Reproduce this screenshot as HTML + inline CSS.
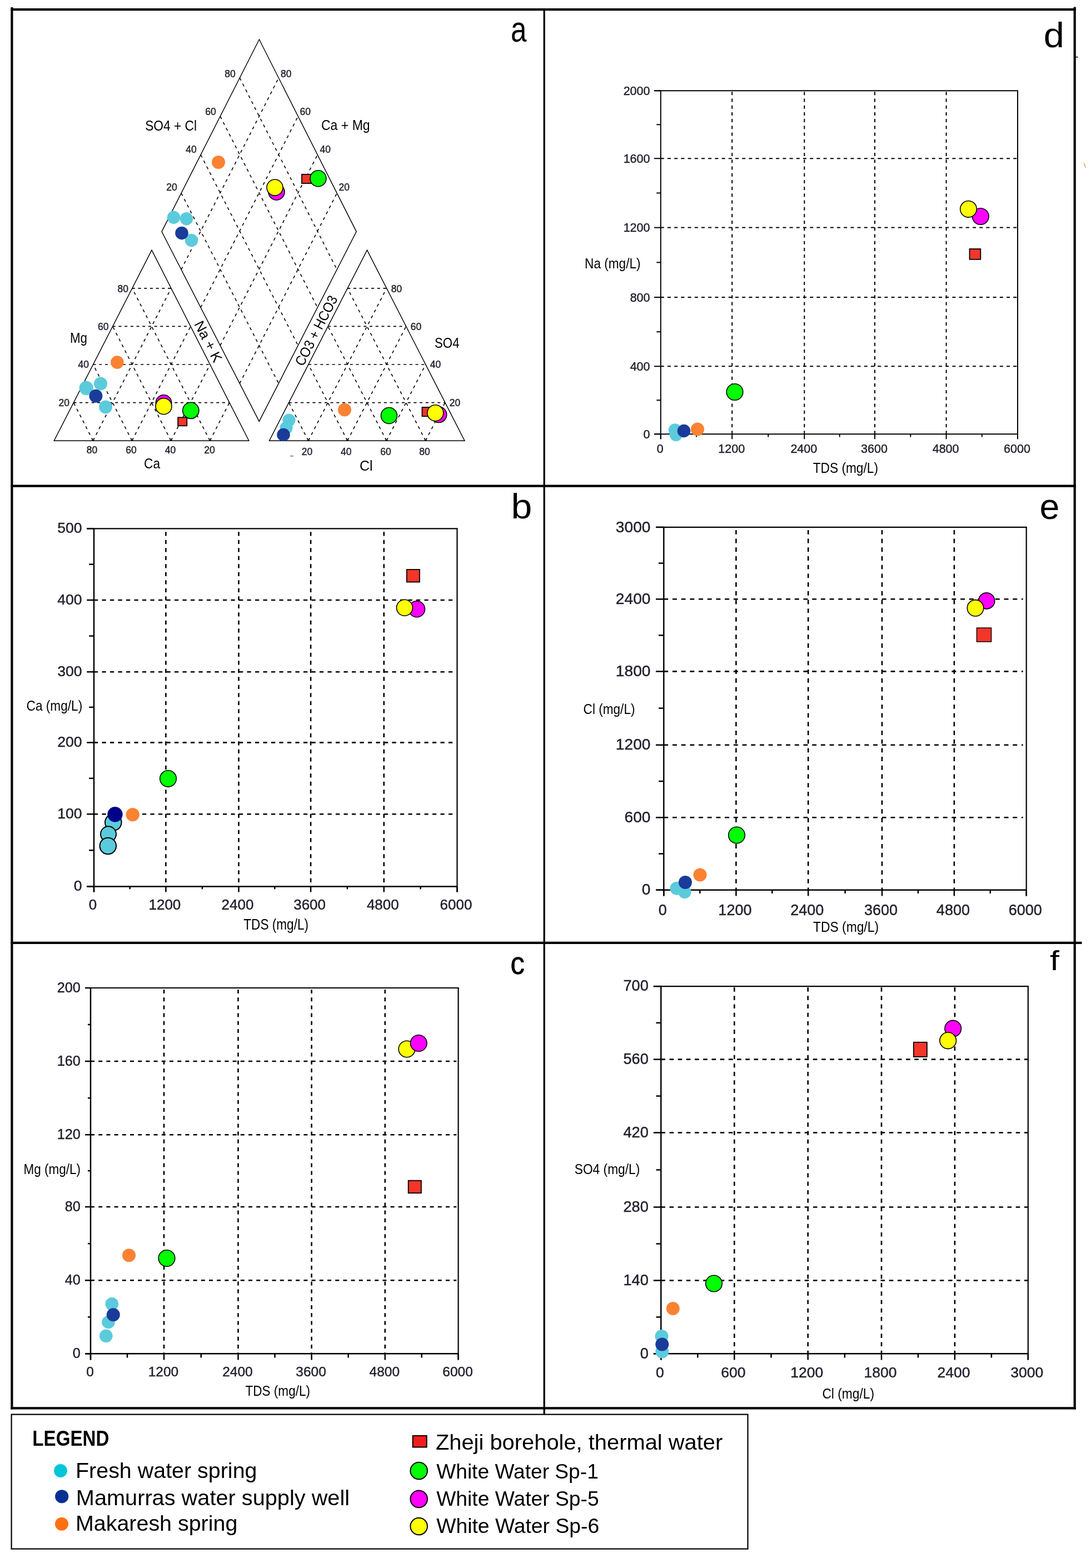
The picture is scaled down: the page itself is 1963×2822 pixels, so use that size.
<!DOCTYPE html><html><head><meta charset="utf-8"><title>Figure</title><style>html,body{margin:0;padding:0;background:#fff;}svg{display:block;}text{font-family:'Liberation Sans', Arial, sans-serif;}</style></head><body>
<svg width="1963" height="2822" viewBox="0 0 1963 2822">
<rect x="0" y="0" width="1963" height="2822" fill="#fff"/>
<line x1="19.4" y1="17.2" x2="1935.8" y2="17.2" stroke="#000" stroke-width="4.2" stroke-linecap="butt"/>
<line x1="21.4" y1="13" x2="21.4" y2="2536.5" stroke="#000" stroke-width="4.2" stroke-linecap="butt"/>
<line x1="1933.7" y1="12.5" x2="1933.7" y2="2536.5" stroke="#000" stroke-width="4.2" stroke-linecap="butt"/>
<line x1="19.4" y1="2534.4" x2="1935.8" y2="2534.4" stroke="#000" stroke-width="4.2" stroke-linecap="butt"/>
<line x1="979.2" y1="17" x2="979.2" y2="2546" stroke="#000" stroke-width="3.2" stroke-linecap="butt"/>
<line x1="19.4" y1="874.7" x2="1935.8" y2="874.7" stroke="#000" stroke-width="4.2" stroke-linecap="butt"/>
<line x1="19.4" y1="1696.8" x2="1946.5" y2="1696.8" stroke="#000" stroke-width="4.2" stroke-linecap="butt"/>
<rect x="20.6" y="2545.6" width="1324.9" height="242" fill="none" stroke="#000" stroke-width="2.2"/>
<line x1="132.44" y1="724.6" x2="412.84" y2="724.6" stroke="#000" stroke-width="1.7" stroke-dasharray="5 5.7" stroke-linecap="butt"/>
<line x1="167.4" y1="793.2" x2="132.44" y2="724.6" stroke="#000" stroke-width="1.6" stroke-dasharray="5.4 6.4" stroke-linecap="butt"/>
<line x1="377.7" y1="793.2" x2="412.84" y2="724.6" stroke="#000" stroke-width="1.6" stroke-dasharray="5.4 6.4" stroke-linecap="butt"/>
<line x1="167.58" y1="656" x2="377.88" y2="656" stroke="#000" stroke-width="1.7" stroke-dasharray="5 5.7" stroke-linecap="butt"/>
<line x1="237.5" y1="793.2" x2="167.58" y2="656" stroke="#000" stroke-width="1.6" stroke-dasharray="5.4 6.4" stroke-linecap="butt"/>
<line x1="307.6" y1="793.2" x2="377.88" y2="656" stroke="#000" stroke-width="1.6" stroke-dasharray="5.4 6.4" stroke-linecap="butt"/>
<line x1="202.72" y1="587.4" x2="342.92" y2="587.4" stroke="#000" stroke-width="1.7" stroke-dasharray="5 5.7" stroke-linecap="butt"/>
<line x1="307.6" y1="793.2" x2="202.72" y2="587.4" stroke="#000" stroke-width="1.6" stroke-dasharray="5.4 6.4" stroke-linecap="butt"/>
<line x1="237.5" y1="793.2" x2="342.92" y2="587.4" stroke="#000" stroke-width="1.6" stroke-dasharray="5.4 6.4" stroke-linecap="butt"/>
<line x1="237.86" y1="518.8" x2="307.96" y2="518.8" stroke="#000" stroke-width="1.7" stroke-dasharray="5 5.7" stroke-linecap="butt"/>
<line x1="377.7" y1="793.2" x2="237.86" y2="518.8" stroke="#000" stroke-width="1.6" stroke-dasharray="5.4 6.4" stroke-linecap="butt"/>
<line x1="167.4" y1="793.2" x2="307.96" y2="518.8" stroke="#000" stroke-width="1.6" stroke-dasharray="5.4 6.4" stroke-linecap="butt"/>
<polygon points="97.3,793.2 447.8,793.2 273,450.2" fill="none" stroke="#000" stroke-width="1.45" stroke-linejoin="miter"/>
<line x1="166.2" y1="789.2" x2="166.2" y2="793.2" stroke="#000" stroke-width="1.1" stroke-linecap="butt"/>
<line x1="168.6" y1="789.2" x2="168.6" y2="793.2" stroke="#000" stroke-width="1.1" stroke-linecap="butt"/>
<line x1="236.3" y1="789.2" x2="236.3" y2="793.2" stroke="#000" stroke-width="1.1" stroke-linecap="butt"/>
<line x1="238.7" y1="789.2" x2="238.7" y2="793.2" stroke="#000" stroke-width="1.1" stroke-linecap="butt"/>
<line x1="306.4" y1="789.2" x2="306.4" y2="793.2" stroke="#000" stroke-width="1.1" stroke-linecap="butt"/>
<line x1="308.8" y1="789.2" x2="308.8" y2="793.2" stroke="#000" stroke-width="1.1" stroke-linecap="butt"/>
<line x1="376.5" y1="789.2" x2="376.5" y2="793.2" stroke="#000" stroke-width="1.1" stroke-linecap="butt"/>
<line x1="378.9" y1="789.2" x2="378.9" y2="793.2" stroke="#000" stroke-width="1.1" stroke-linecap="butt"/>
<line x1="519.7" y1="724.6" x2="800.9" y2="724.6" stroke="#000" stroke-width="1.7" stroke-dasharray="5 5.7" stroke-linecap="butt"/>
<line x1="554.8" y1="793.2" x2="519.7" y2="724.6" stroke="#000" stroke-width="1.6" stroke-dasharray="5.4 6.4" stroke-linecap="butt"/>
<line x1="765.7" y1="793.2" x2="800.9" y2="724.6" stroke="#000" stroke-width="1.6" stroke-dasharray="5.4 6.4" stroke-linecap="butt"/>
<line x1="554.9" y1="656" x2="765.8" y2="656" stroke="#000" stroke-width="1.7" stroke-dasharray="5 5.7" stroke-linecap="butt"/>
<line x1="625.1" y1="793.2" x2="554.9" y2="656" stroke="#000" stroke-width="1.6" stroke-dasharray="5.4 6.4" stroke-linecap="butt"/>
<line x1="695.4" y1="793.2" x2="765.8" y2="656" stroke="#000" stroke-width="1.6" stroke-dasharray="5.4 6.4" stroke-linecap="butt"/>
<line x1="590.1" y1="587.4" x2="730.7" y2="587.4" stroke="#000" stroke-width="1.7" stroke-dasharray="5 5.7" stroke-linecap="butt"/>
<line x1="695.4" y1="793.2" x2="590.1" y2="587.4" stroke="#000" stroke-width="1.6" stroke-dasharray="5.4 6.4" stroke-linecap="butt"/>
<line x1="625.1" y1="793.2" x2="730.7" y2="587.4" stroke="#000" stroke-width="1.6" stroke-dasharray="5.4 6.4" stroke-linecap="butt"/>
<line x1="625.3" y1="518.8" x2="695.6" y2="518.8" stroke="#000" stroke-width="1.7" stroke-dasharray="5 5.7" stroke-linecap="butt"/>
<line x1="765.7" y1="793.2" x2="625.3" y2="518.8" stroke="#000" stroke-width="1.6" stroke-dasharray="5.4 6.4" stroke-linecap="butt"/>
<line x1="554.8" y1="793.2" x2="695.6" y2="518.8" stroke="#000" stroke-width="1.6" stroke-dasharray="5.4 6.4" stroke-linecap="butt"/>
<polygon points="484.5,793.2 836,793.2 660.5,450.2" fill="none" stroke="#000" stroke-width="1.45" stroke-linejoin="miter"/>
<line x1="553.6" y1="789.2" x2="553.6" y2="793.2" stroke="#000" stroke-width="1.1" stroke-linecap="butt"/>
<line x1="556" y1="789.2" x2="556" y2="793.2" stroke="#000" stroke-width="1.1" stroke-linecap="butt"/>
<line x1="623.9" y1="789.2" x2="623.9" y2="793.2" stroke="#000" stroke-width="1.1" stroke-linecap="butt"/>
<line x1="626.3" y1="789.2" x2="626.3" y2="793.2" stroke="#000" stroke-width="1.1" stroke-linecap="butt"/>
<line x1="694.2" y1="789.2" x2="694.2" y2="793.2" stroke="#000" stroke-width="1.1" stroke-linecap="butt"/>
<line x1="696.6" y1="789.2" x2="696.6" y2="793.2" stroke="#000" stroke-width="1.1" stroke-linecap="butt"/>
<line x1="764.5" y1="789.2" x2="764.5" y2="793.2" stroke="#000" stroke-width="1.1" stroke-linecap="butt"/>
<line x1="766.9" y1="789.2" x2="766.9" y2="793.2" stroke="#000" stroke-width="1.1" stroke-linecap="butt"/>
<line x1="326.08" y1="347.64" x2="501.28" y2="690.08" stroke="#000" stroke-width="1.6" stroke-dasharray="5.4 6.4" stroke-linecap="butt"/>
<line x1="326.06" y1="485.12" x2="501.36" y2="140.16" stroke="#000" stroke-width="1.6" stroke-dasharray="5.4 6.4" stroke-linecap="butt"/>
<line x1="361.16" y1="278.48" x2="536.26" y2="621.76" stroke="#000" stroke-width="1.6" stroke-dasharray="5.4 6.4" stroke-linecap="butt"/>
<line x1="361.12" y1="553.44" x2="536.32" y2="209.32" stroke="#000" stroke-width="1.6" stroke-dasharray="5.4 6.4" stroke-linecap="butt"/>
<line x1="396.24" y1="209.32" x2="571.24" y2="553.44" stroke="#000" stroke-width="1.6" stroke-dasharray="5.4 6.4" stroke-linecap="butt"/>
<line x1="396.18" y1="621.76" x2="571.28" y2="278.48" stroke="#000" stroke-width="1.6" stroke-dasharray="5.4 6.4" stroke-linecap="butt"/>
<line x1="431.32" y1="140.16" x2="606.22" y2="485.12" stroke="#000" stroke-width="1.6" stroke-dasharray="5.4 6.4" stroke-linecap="butt"/>
<line x1="431.24" y1="690.08" x2="606.24" y2="347.64" stroke="#000" stroke-width="1.6" stroke-dasharray="5.4 6.4" stroke-linecap="butt"/>
<polygon points="291,416.8 466.4,71 641.2,416.8 466.3,758.4" fill="none" stroke="#000" stroke-width="1.45"/>
<text x="231" y="525.6" font-size="17.5" fill="#22222e" stroke="#22222e" stroke-width="0.45" text-anchor="end">80</text>
<text x="195.5" y="593.8" font-size="17.5" fill="#22222e" stroke="#22222e" stroke-width="0.45" text-anchor="end">60</text>
<text x="160" y="662.1" font-size="17.5" fill="#22222e" stroke="#22222e" stroke-width="0.45" text-anchor="end">40</text>
<text x="125" y="730.5" font-size="17.5" fill="#22222e" stroke="#22222e" stroke-width="0.45" text-anchor="end">20</text>
<text x="703.8" y="525.6" font-size="17.5" fill="#22222e" stroke="#22222e" stroke-width="0.45">80</text>
<text x="738.8" y="593.8" font-size="17.5" fill="#22222e" stroke="#22222e" stroke-width="0.45">60</text>
<text x="773.8" y="662.1" font-size="17.5" fill="#22222e" stroke="#22222e" stroke-width="0.45">40</text>
<text x="808.8" y="730.5" font-size="17.5" fill="#22222e" stroke="#22222e" stroke-width="0.45">20</text>
<text x="165.5" y="816.3" font-size="17.5" fill="#22222e" stroke="#22222e" stroke-width="0.45" text-anchor="middle">80</text>
<text x="236" y="816.3" font-size="17.5" fill="#22222e" stroke="#22222e" stroke-width="0.45" text-anchor="middle">60</text>
<text x="306.5" y="816.3" font-size="17.5" fill="#22222e" stroke="#22222e" stroke-width="0.45" text-anchor="middle">40</text>
<text x="377" y="816.3" font-size="17.5" fill="#22222e" stroke="#22222e" stroke-width="0.45" text-anchor="middle">20</text>
<text x="552.5" y="819.3" font-size="17.5" fill="#22222e" stroke="#22222e" stroke-width="0.45" text-anchor="middle">20</text>
<text x="622.8" y="819.3" font-size="17.5" fill="#22222e" stroke="#22222e" stroke-width="0.45" text-anchor="middle">40</text>
<text x="694" y="819.3" font-size="17.5" fill="#22222e" stroke="#22222e" stroke-width="0.45" text-anchor="middle">60</text>
<text x="764" y="819.3" font-size="17.5" fill="#22222e" stroke="#22222e" stroke-width="0.45" text-anchor="middle">80</text>
<text x="423.8" y="138.6" font-size="17.5" fill="#22222e" stroke="#22222e" stroke-width="0.45" text-anchor="end">80</text>
<text x="388.8" y="206.5" font-size="17.5" fill="#22222e" stroke="#22222e" stroke-width="0.45" text-anchor="end">60</text>
<text x="353.8" y="274.6" font-size="17.5" fill="#22222e" stroke="#22222e" stroke-width="0.45" text-anchor="end">40</text>
<text x="318.8" y="342.6" font-size="17.5" fill="#22222e" stroke="#22222e" stroke-width="0.45" text-anchor="end">20</text>
<text x="505" y="138.6" font-size="17.5" fill="#22222e" stroke="#22222e" stroke-width="0.45">80</text>
<text x="539.5" y="206.5" font-size="17.5" fill="#22222e" stroke="#22222e" stroke-width="0.45">60</text>
<text x="575.5" y="274.6" font-size="17.5" fill="#22222e" stroke="#22222e" stroke-width="0.45">40</text>
<text x="609.5" y="342.6" font-size="17.5" fill="#22222e" stroke="#22222e" stroke-width="0.45">20</text>
<line x1="522" y1="820.8" x2="528" y2="820.8" stroke="#555" stroke-width="1.2" stroke-linecap="butt"/>
<text x="261.2" y="234.5" font-size="25.5" fill="#000" textLength="92.9" lengthAdjust="spacingAndGlyphs">SO4 + Cl</text>
<text x="578" y="233.8" font-size="25.5" fill="#000" textLength="87.6" lengthAdjust="spacingAndGlyphs">Ca + Mg</text>
<text x="126" y="616.8" font-size="25.5" fill="#000" textLength="31" lengthAdjust="spacingAndGlyphs">Mg</text>
<text x="782" y="626.3" font-size="25.5" fill="#000" textLength="44.5" lengthAdjust="spacingAndGlyphs">SO4</text>
<text x="259" y="842.8" font-size="25.5" fill="#000" textLength="29" lengthAdjust="spacingAndGlyphs">Ca</text>
<text x="647" y="847.3" font-size="25.5" fill="#000" textLength="23.6" lengthAdjust="spacingAndGlyphs">Cl</text>
<g transform="translate(375,614.4) rotate(62.93)"><text x="0" y="9" font-size="25.5" text-anchor="middle" textLength="80" lengthAdjust="spacingAndGlyphs">Na + K</text></g>
<g transform="translate(568.8,595) rotate(-62.93)"><text x="0" y="9" font-size="25.5" text-anchor="middle" textLength="138" lengthAdjust="spacingAndGlyphs">CO3 + HCO3</text></g>
<circle cx="210.9" cy="652.1" r="11.8" fill="#fb8232"/>
<circle cx="155.2" cy="698.5" r="12.7" fill="#5bcbdc"/>
<circle cx="181" cy="690.5" r="12" fill="#5bcbdc"/>
<circle cx="172.4" cy="712.8" r="12" fill="#1a3b99"/>
<circle cx="190" cy="732.5" r="12" fill="#5bcbdc"/>
<circle cx="294.5" cy="725" r="14.2" fill="#ff00ff" stroke="#000" stroke-width="1.6"/>
<circle cx="294.5" cy="731.3" r="14.5" fill="#ffff00" stroke="#000" stroke-width="1.6"/>
<circle cx="343.3" cy="738.8" r="14.6" fill="#00ff00" stroke="#000" stroke-width="1.6"/>
<rect x="320.2" y="751.3" width="16.1" height="15" fill="#f4352a" stroke="#000" stroke-width="1.8"/>
<circle cx="393" cy="292" r="12" fill="#fb8232"/>
<circle cx="497.5" cy="345.5" r="14.5" fill="#ff00ff" stroke="#000" stroke-width="1.6"/>
<circle cx="494.5" cy="337.5" r="14.5" fill="#ffff00" stroke="#000" stroke-width="1.6"/>
<rect x="543" y="313.8" width="17" height="16.2" fill="#f4352a" stroke="#000" stroke-width="1.8"/>
<circle cx="572.5" cy="321.3" r="14.5" fill="#00ff00" stroke="#000" stroke-width="1.6"/>
<circle cx="312.5" cy="391.3" r="11.7" fill="#5bcbdc"/>
<circle cx="335.5" cy="393.8" r="11.7" fill="#5bcbdc"/>
<circle cx="344.5" cy="432.5" r="11.7" fill="#5bcbdc"/>
<circle cx="327" cy="419.5" r="11.8" fill="#1a3b99"/>
<circle cx="520" cy="756.3" r="11.6" fill="#5bcbdc"/>
<circle cx="515" cy="770" r="11.6" fill="#5bcbdc"/>
<circle cx="510" cy="782.5" r="11.8" fill="#1a3b99"/>
<circle cx="620" cy="737.5" r="12" fill="#fb8232"/>
<circle cx="700" cy="748" r="14.5" fill="#00ff00" stroke="#000" stroke-width="1.6"/>
<rect x="759.5" y="733" width="16.5" height="16.3" fill="#f4352a" stroke="#000" stroke-width="1.8"/>
<circle cx="789.5" cy="746.3" r="14.2" fill="#ff00ff" stroke="#000" stroke-width="1.6"/>
<circle cx="783.3" cy="743.3" r="14.5" fill="#ffff00" stroke="#000" stroke-width="1.6"/>
<text x="917.5" y="75.5" font-size="64" fill="#000" transform="matrix(0.8 0 0 1 184.9 0)">a</text>
<line x1="169" y1="1465.2" x2="818.8" y2="1465.2" stroke="#000" stroke-width="2.6" stroke-dasharray="7.2 7.3" stroke-linecap="butt"/>
<line x1="298.4" y1="957.3" x2="298.4" y2="1595.4" stroke="#000" stroke-width="2.6" stroke-dasharray="7.2 7.3" stroke-linecap="butt"/>
<line x1="169" y1="1336.4" x2="818.8" y2="1336.4" stroke="#000" stroke-width="2.6" stroke-dasharray="7.2 7.3" stroke-linecap="butt"/>
<line x1="429.5" y1="957.3" x2="429.5" y2="1595.4" stroke="#000" stroke-width="2.6" stroke-dasharray="7.2 7.3" stroke-linecap="butt"/>
<line x1="169" y1="1209.2" x2="818.8" y2="1209.2" stroke="#000" stroke-width="2.6" stroke-dasharray="7.2 7.3" stroke-linecap="butt"/>
<line x1="559.1" y1="957.3" x2="559.1" y2="1595.4" stroke="#000" stroke-width="2.6" stroke-dasharray="7.2 7.3" stroke-linecap="butt"/>
<line x1="169" y1="1080" x2="818.8" y2="1080" stroke="#000" stroke-width="2.6" stroke-dasharray="7.2 7.3" stroke-linecap="butt"/>
<line x1="690.8" y1="957.3" x2="690.8" y2="1595.4" stroke="#000" stroke-width="2.6" stroke-dasharray="7.2 7.3" stroke-linecap="butt"/>
<line x1="156.2" y1="951.3" x2="823.6" y2="951.3" stroke="#000" stroke-width="2.2" stroke-linecap="butt"/>
<line x1="822.5" y1="951.3" x2="822.5" y2="1605.5" stroke="#000" stroke-width="2.2" stroke-linecap="butt"/>
<line x1="169" y1="951.05" x2="169" y2="1605.5" stroke="#000" stroke-width="2.5" stroke-linecap="butt"/>
<line x1="156.2" y1="1595.4" x2="822.5" y2="1595.4" stroke="#000" stroke-width="2.5" stroke-linecap="butt"/>
<line x1="156.2" y1="1595.4" x2="169" y2="1595.4" stroke="#000" stroke-width="2.5" stroke-linecap="butt"/>
<line x1="169" y1="1595.4" x2="169" y2="1605.5" stroke="#000" stroke-width="2.5" stroke-linecap="butt"/>
<line x1="156.2" y1="1465.2" x2="169" y2="1465.2" stroke="#000" stroke-width="2.5" stroke-linecap="butt"/>
<line x1="298.4" y1="1595.4" x2="298.4" y2="1605.5" stroke="#000" stroke-width="2.5" stroke-linecap="butt"/>
<line x1="156.2" y1="1336.4" x2="169" y2="1336.4" stroke="#000" stroke-width="2.5" stroke-linecap="butt"/>
<line x1="429.5" y1="1595.4" x2="429.5" y2="1605.5" stroke="#000" stroke-width="2.5" stroke-linecap="butt"/>
<line x1="156.2" y1="1209.2" x2="169" y2="1209.2" stroke="#000" stroke-width="2.5" stroke-linecap="butt"/>
<line x1="559.1" y1="1595.4" x2="559.1" y2="1605.5" stroke="#000" stroke-width="2.5" stroke-linecap="butt"/>
<line x1="156.2" y1="1080" x2="169" y2="1080" stroke="#000" stroke-width="2.5" stroke-linecap="butt"/>
<line x1="690.8" y1="1595.4" x2="690.8" y2="1605.5" stroke="#000" stroke-width="2.5" stroke-linecap="butt"/>
<line x1="156.2" y1="951.3" x2="169" y2="951.3" stroke="#000" stroke-width="2.5" stroke-linecap="butt"/>
<line x1="822.5" y1="1595.4" x2="822.5" y2="1605.5" stroke="#000" stroke-width="2.5" stroke-linecap="butt"/>
<line x1="160.2" y1="1530.3" x2="169" y2="1530.3" stroke="#000" stroke-width="2.5" stroke-linecap="butt"/>
<line x1="233.7" y1="1595.4" x2="233.7" y2="1600.3" stroke="#000" stroke-width="2.5" stroke-linecap="butt"/>
<line x1="160.2" y1="1400.8" x2="169" y2="1400.8" stroke="#000" stroke-width="2.5" stroke-linecap="butt"/>
<line x1="363.95" y1="1595.4" x2="363.95" y2="1600.3" stroke="#000" stroke-width="2.5" stroke-linecap="butt"/>
<line x1="160.2" y1="1272.8" x2="169" y2="1272.8" stroke="#000" stroke-width="2.5" stroke-linecap="butt"/>
<line x1="494.3" y1="1595.4" x2="494.3" y2="1600.3" stroke="#000" stroke-width="2.5" stroke-linecap="butt"/>
<line x1="160.2" y1="1144.6" x2="169" y2="1144.6" stroke="#000" stroke-width="2.5" stroke-linecap="butt"/>
<line x1="624.95" y1="1595.4" x2="624.95" y2="1600.3" stroke="#000" stroke-width="2.5" stroke-linecap="butt"/>
<line x1="160.2" y1="1015.65" x2="169" y2="1015.65" stroke="#000" stroke-width="2.5" stroke-linecap="butt"/>
<line x1="756.65" y1="1595.4" x2="756.65" y2="1600.3" stroke="#000" stroke-width="2.5" stroke-linecap="butt"/>
<text x="147.5" y="1603.42" font-size="26.6" fill="#22222e" stroke="#22222e" stroke-width="0.45" text-anchor="end">0</text>
<text x="147.5" y="1473.22" font-size="26.6" fill="#22222e" stroke="#22222e" stroke-width="0.45" text-anchor="end">100</text>
<text x="147.5" y="1344.42" font-size="26.6" fill="#22222e" stroke="#22222e" stroke-width="0.45" text-anchor="end">200</text>
<text x="147.5" y="1217.22" font-size="26.6" fill="#22222e" stroke="#22222e" stroke-width="0.45" text-anchor="end">300</text>
<text x="147.5" y="1088.02" font-size="26.6" fill="#22222e" stroke="#22222e" stroke-width="0.45" text-anchor="end">400</text>
<text x="147.5" y="959.32" font-size="26.6" fill="#22222e" stroke="#22222e" stroke-width="0.45" text-anchor="end">500</text>
<text x="167" y="1637.3" font-size="26" fill="#22222e" stroke="#22222e" stroke-width="0.45" text-anchor="middle">0</text>
<text x="296.4" y="1637.3" font-size="26" fill="#22222e" stroke="#22222e" stroke-width="0.45" text-anchor="middle">1200</text>
<text x="427.5" y="1637.3" font-size="26" fill="#22222e" stroke="#22222e" stroke-width="0.45" text-anchor="middle">2400</text>
<text x="557.1" y="1637.3" font-size="26" fill="#22222e" stroke="#22222e" stroke-width="0.45" text-anchor="middle">3600</text>
<text x="688.8" y="1637.3" font-size="26" fill="#22222e" stroke="#22222e" stroke-width="0.45" text-anchor="middle">4800</text>
<text x="820.5" y="1637.3" font-size="26" fill="#22222e" stroke="#22222e" stroke-width="0.45" text-anchor="middle">6000</text>
<text x="47.6" y="1278.8" font-size="26.5" fill="#000" textLength="100.6" lengthAdjust="spacingAndGlyphs">Ca (mg/L)</text>
<text x="438.3" y="1673.3" font-size="26.8" fill="#000" textLength="116.7" lengthAdjust="spacingAndGlyphs">TDS (mg/L)</text>
<line x1="163" y1="2304.3" x2="821.3" y2="2304.3" stroke="#000" stroke-width="2.6" stroke-dasharray="7 7.2" stroke-linecap="butt"/>
<line x1="295" y1="1781" x2="295" y2="2436.3" stroke="#000" stroke-width="2.6" stroke-dasharray="7 7.2" stroke-linecap="butt"/>
<line x1="163" y1="2172" x2="821.3" y2="2172" stroke="#000" stroke-width="2.6" stroke-dasharray="7 7.2" stroke-linecap="butt"/>
<line x1="428.5" y1="1781" x2="428.5" y2="2436.3" stroke="#000" stroke-width="2.6" stroke-dasharray="7 7.2" stroke-linecap="butt"/>
<line x1="163" y1="2042.2" x2="821.3" y2="2042.2" stroke="#000" stroke-width="2.6" stroke-dasharray="7 7.2" stroke-linecap="butt"/>
<line x1="560.6" y1="1781" x2="560.6" y2="2436.3" stroke="#000" stroke-width="2.6" stroke-dasharray="7 7.2" stroke-linecap="butt"/>
<line x1="163" y1="1910" x2="821.3" y2="1910" stroke="#000" stroke-width="2.6" stroke-dasharray="7 7.2" stroke-linecap="butt"/>
<line x1="692.8" y1="1781" x2="692.8" y2="2436.3" stroke="#000" stroke-width="2.6" stroke-dasharray="7 7.2" stroke-linecap="butt"/>
<line x1="153" y1="1778" x2="825.7" y2="1778" stroke="#000" stroke-width="2.2" stroke-linecap="butt"/>
<line x1="824.6" y1="1778" x2="824.6" y2="2447.5" stroke="#000" stroke-width="2.2" stroke-linecap="butt"/>
<line x1="163" y1="1777.75" x2="163" y2="2447.5" stroke="#000" stroke-width="2.5" stroke-linecap="butt"/>
<line x1="153" y1="2436.3" x2="824.6" y2="2436.3" stroke="#000" stroke-width="2.5" stroke-linecap="butt"/>
<line x1="153" y1="2436.3" x2="163" y2="2436.3" stroke="#000" stroke-width="2.5" stroke-linecap="butt"/>
<line x1="163" y1="2436.3" x2="163" y2="2447.5" stroke="#000" stroke-width="2.5" stroke-linecap="butt"/>
<line x1="153" y1="2304.3" x2="163" y2="2304.3" stroke="#000" stroke-width="2.5" stroke-linecap="butt"/>
<line x1="295" y1="2436.3" x2="295" y2="2447.5" stroke="#000" stroke-width="2.5" stroke-linecap="butt"/>
<line x1="153" y1="2172" x2="163" y2="2172" stroke="#000" stroke-width="2.5" stroke-linecap="butt"/>
<line x1="428.5" y1="2436.3" x2="428.5" y2="2447.5" stroke="#000" stroke-width="2.5" stroke-linecap="butt"/>
<line x1="153" y1="2042.2" x2="163" y2="2042.2" stroke="#000" stroke-width="2.5" stroke-linecap="butt"/>
<line x1="560.6" y1="2436.3" x2="560.6" y2="2447.5" stroke="#000" stroke-width="2.5" stroke-linecap="butt"/>
<line x1="153" y1="1910" x2="163" y2="1910" stroke="#000" stroke-width="2.5" stroke-linecap="butt"/>
<line x1="692.8" y1="2436.3" x2="692.8" y2="2447.5" stroke="#000" stroke-width="2.5" stroke-linecap="butt"/>
<line x1="153" y1="1778" x2="163" y2="1778" stroke="#000" stroke-width="2.5" stroke-linecap="butt"/>
<line x1="824.6" y1="2436.3" x2="824.6" y2="2447.5" stroke="#000" stroke-width="2.5" stroke-linecap="butt"/>
<line x1="158" y1="2370.3" x2="163" y2="2370.3" stroke="#000" stroke-width="2.5" stroke-linecap="butt"/>
<line x1="229" y1="2436.3" x2="229" y2="2443.5" stroke="#000" stroke-width="2.5" stroke-linecap="butt"/>
<line x1="158" y1="2238.15" x2="163" y2="2238.15" stroke="#000" stroke-width="2.5" stroke-linecap="butt"/>
<line x1="361.75" y1="2436.3" x2="361.75" y2="2443.5" stroke="#000" stroke-width="2.5" stroke-linecap="butt"/>
<line x1="158" y1="2107.1" x2="163" y2="2107.1" stroke="#000" stroke-width="2.5" stroke-linecap="butt"/>
<line x1="494.55" y1="2436.3" x2="494.55" y2="2443.5" stroke="#000" stroke-width="2.5" stroke-linecap="butt"/>
<line x1="158" y1="1976.1" x2="163" y2="1976.1" stroke="#000" stroke-width="2.5" stroke-linecap="butt"/>
<line x1="626.7" y1="2436.3" x2="626.7" y2="2443.5" stroke="#000" stroke-width="2.5" stroke-linecap="butt"/>
<line x1="158" y1="1844" x2="163" y2="1844" stroke="#000" stroke-width="2.5" stroke-linecap="butt"/>
<line x1="758.7" y1="2436.3" x2="758.7" y2="2443.5" stroke="#000" stroke-width="2.5" stroke-linecap="butt"/>
<text x="144.8" y="2443.82" font-size="25.2" fill="#22222e" stroke="#22222e" stroke-width="0.45" text-anchor="end">0</text>
<text x="144.8" y="2311.82" font-size="25.2" fill="#22222e" stroke="#22222e" stroke-width="0.45" text-anchor="end">40</text>
<text x="144.8" y="2179.52" font-size="25.2" fill="#22222e" stroke="#22222e" stroke-width="0.45" text-anchor="end">80</text>
<text x="144.8" y="2049.72" font-size="25.2" fill="#22222e" stroke="#22222e" stroke-width="0.45" text-anchor="end">120</text>
<text x="144.8" y="1917.52" font-size="25.2" fill="#22222e" stroke="#22222e" stroke-width="0.45" text-anchor="end">160</text>
<text x="144.8" y="1785.52" font-size="25.2" fill="#22222e" stroke="#22222e" stroke-width="0.45" text-anchor="end">200</text>
<text x="162" y="2476.5" font-size="24.5" fill="#22222e" stroke="#22222e" stroke-width="0.45" text-anchor="middle">0</text>
<text x="294" y="2476.5" font-size="24.5" fill="#22222e" stroke="#22222e" stroke-width="0.45" text-anchor="middle">1200</text>
<text x="427.5" y="2476.5" font-size="24.5" fill="#22222e" stroke="#22222e" stroke-width="0.45" text-anchor="middle">2400</text>
<text x="559.6" y="2476.5" font-size="24.5" fill="#22222e" stroke="#22222e" stroke-width="0.45" text-anchor="middle">3600</text>
<text x="691.8" y="2476.5" font-size="24.5" fill="#22222e" stroke="#22222e" stroke-width="0.45" text-anchor="middle">4800</text>
<text x="823.6" y="2476.5" font-size="24.5" fill="#22222e" stroke="#22222e" stroke-width="0.45" text-anchor="middle">6000</text>
<text x="42.6" y="2113.3" font-size="25.5" fill="#000" textLength="102.4" lengthAdjust="spacingAndGlyphs">Mg (mg/L)</text>
<text x="441.4" y="2512.3" font-size="26.3" fill="#000" textLength="116.7" lengthAdjust="spacingAndGlyphs">TDS (mg/L)</text>
<line x1="1188.8" y1="659.3" x2="1831" y2="659.3" stroke="#000" stroke-width="2" stroke-dasharray="6 6.2" stroke-linecap="butt"/>
<line x1="1317.2" y1="165.3" x2="1317.2" y2="781.2" stroke="#000" stroke-width="2" stroke-dasharray="6 6.2" stroke-linecap="butt"/>
<line x1="1188.8" y1="535" x2="1831" y2="535" stroke="#000" stroke-width="2" stroke-dasharray="6 6.2" stroke-linecap="butt"/>
<line x1="1447.3" y1="165.3" x2="1447.3" y2="781.2" stroke="#000" stroke-width="2" stroke-dasharray="6 6.2" stroke-linecap="butt"/>
<line x1="1188.8" y1="409.6" x2="1831" y2="409.6" stroke="#000" stroke-width="2" stroke-dasharray="6 6.2" stroke-linecap="butt"/>
<line x1="1574" y1="165.3" x2="1574" y2="781.2" stroke="#000" stroke-width="2" stroke-dasharray="6 6.2" stroke-linecap="butt"/>
<line x1="1188.8" y1="285.2" x2="1831" y2="285.2" stroke="#000" stroke-width="2" stroke-dasharray="6 6.2" stroke-linecap="butt"/>
<line x1="1702.6" y1="165.3" x2="1702.6" y2="781.2" stroke="#000" stroke-width="2" stroke-dasharray="6 6.2" stroke-linecap="butt"/>
<line x1="1177" y1="163.3" x2="1832" y2="163.3" stroke="#000" stroke-width="2" stroke-linecap="butt"/>
<line x1="1831" y1="163.3" x2="1831" y2="790.3" stroke="#000" stroke-width="2" stroke-linecap="butt"/>
<line x1="1188.8" y1="163.3" x2="1188.8" y2="790.3" stroke="#000" stroke-width="2" stroke-linecap="butt"/>
<line x1="1177" y1="781.2" x2="1831" y2="781.2" stroke="#000" stroke-width="2" stroke-linecap="butt"/>
<line x1="1177" y1="781.2" x2="1188.8" y2="781.2" stroke="#000" stroke-width="2" stroke-linecap="butt"/>
<line x1="1188.8" y1="781.2" x2="1188.8" y2="790.3" stroke="#000" stroke-width="2" stroke-linecap="butt"/>
<line x1="1177" y1="659.3" x2="1188.8" y2="659.3" stroke="#000" stroke-width="2" stroke-linecap="butt"/>
<line x1="1317.2" y1="781.2" x2="1317.2" y2="790.3" stroke="#000" stroke-width="2" stroke-linecap="butt"/>
<line x1="1177" y1="535" x2="1188.8" y2="535" stroke="#000" stroke-width="2" stroke-linecap="butt"/>
<line x1="1447.3" y1="781.2" x2="1447.3" y2="790.3" stroke="#000" stroke-width="2" stroke-linecap="butt"/>
<line x1="1177" y1="409.6" x2="1188.8" y2="409.6" stroke="#000" stroke-width="2" stroke-linecap="butt"/>
<line x1="1574" y1="781.2" x2="1574" y2="790.3" stroke="#000" stroke-width="2" stroke-linecap="butt"/>
<line x1="1177" y1="285.2" x2="1188.8" y2="285.2" stroke="#000" stroke-width="2" stroke-linecap="butt"/>
<line x1="1702.6" y1="781.2" x2="1702.6" y2="790.3" stroke="#000" stroke-width="2" stroke-linecap="butt"/>
<line x1="1177" y1="163.3" x2="1188.8" y2="163.3" stroke="#000" stroke-width="2" stroke-linecap="butt"/>
<line x1="1831" y1="781.2" x2="1831" y2="790.3" stroke="#000" stroke-width="2" stroke-linecap="butt"/>
<line x1="1181.3" y1="720.25" x2="1188.8" y2="720.25" stroke="#000" stroke-width="2" stroke-linecap="butt"/>
<line x1="1253" y1="781.2" x2="1253" y2="786.5" stroke="#000" stroke-width="2" stroke-linecap="butt"/>
<line x1="1181.3" y1="597.15" x2="1188.8" y2="597.15" stroke="#000" stroke-width="2" stroke-linecap="butt"/>
<line x1="1382.25" y1="781.2" x2="1382.25" y2="786.5" stroke="#000" stroke-width="2" stroke-linecap="butt"/>
<line x1="1181.3" y1="472.3" x2="1188.8" y2="472.3" stroke="#000" stroke-width="2" stroke-linecap="butt"/>
<line x1="1510.65" y1="781.2" x2="1510.65" y2="786.5" stroke="#000" stroke-width="2" stroke-linecap="butt"/>
<line x1="1181.3" y1="347.4" x2="1188.8" y2="347.4" stroke="#000" stroke-width="2" stroke-linecap="butt"/>
<line x1="1638.3" y1="781.2" x2="1638.3" y2="786.5" stroke="#000" stroke-width="2" stroke-linecap="butt"/>
<line x1="1181.3" y1="224.25" x2="1188.8" y2="224.25" stroke="#000" stroke-width="2" stroke-linecap="butt"/>
<line x1="1766.8" y1="781.2" x2="1766.8" y2="786.5" stroke="#000" stroke-width="2" stroke-linecap="butt"/>
<text x="1169.5" y="788.9" font-size="21.5" fill="#22222e" stroke="#22222e" stroke-width="0.45" text-anchor="end">0</text>
<text x="1169.5" y="667" font-size="21.5" fill="#22222e" stroke="#22222e" stroke-width="0.45" text-anchor="end">400</text>
<text x="1169.5" y="542.7" font-size="21.5" fill="#22222e" stroke="#22222e" stroke-width="0.45" text-anchor="end">800</text>
<text x="1169.5" y="417.3" font-size="21.5" fill="#22222e" stroke="#22222e" stroke-width="0.45" text-anchor="end">1200</text>
<text x="1169.5" y="292.9" font-size="21.5" fill="#22222e" stroke="#22222e" stroke-width="0.45" text-anchor="end">1600</text>
<text x="1169.5" y="171" font-size="21.5" fill="#22222e" stroke="#22222e" stroke-width="0.45" text-anchor="end">2000</text>
<text x="1187.8" y="815.2" font-size="21.5" fill="#22222e" stroke="#22222e" stroke-width="0.45" text-anchor="middle">0</text>
<text x="1316.2" y="815.2" font-size="21.5" fill="#22222e" stroke="#22222e" stroke-width="0.45" text-anchor="middle">1200</text>
<text x="1446.3" y="815.2" font-size="21.5" fill="#22222e" stroke="#22222e" stroke-width="0.45" text-anchor="middle">2400</text>
<text x="1573" y="815.2" font-size="21.5" fill="#22222e" stroke="#22222e" stroke-width="0.45" text-anchor="middle">3600</text>
<text x="1701.6" y="815.2" font-size="21.5" fill="#22222e" stroke="#22222e" stroke-width="0.45" text-anchor="middle">4800</text>
<text x="1830" y="815.2" font-size="21.5" fill="#22222e" stroke="#22222e" stroke-width="0.45" text-anchor="middle">6000</text>
<text x="1052.1" y="483.3" font-size="26" fill="#000" textLength="100.4" lengthAdjust="spacingAndGlyphs">Na (mg/L)</text>
<text x="1462.7" y="851.1" font-size="26" fill="#000" textLength="117.3" lengthAdjust="spacingAndGlyphs">TDS (mg/L)</text>
<line x1="1194.3" y1="1471.3" x2="1840.7" y2="1471.3" stroke="#000" stroke-width="2.6" stroke-dasharray="7.9 7.8" stroke-linecap="butt"/>
<line x1="1324.4" y1="953.9" x2="1324.4" y2="1601.8" stroke="#000" stroke-width="2.6" stroke-dasharray="7.9 7.8" stroke-linecap="butt"/>
<line x1="1194.3" y1="1340.8" x2="1840.7" y2="1340.8" stroke="#000" stroke-width="2.6" stroke-dasharray="7.9 7.8" stroke-linecap="butt"/>
<line x1="1454.2" y1="953.9" x2="1454.2" y2="1601.8" stroke="#000" stroke-width="2.6" stroke-dasharray="7.9 7.8" stroke-linecap="butt"/>
<line x1="1194.3" y1="1208.4" x2="1840.7" y2="1208.4" stroke="#000" stroke-width="2.6" stroke-dasharray="7.9 7.8" stroke-linecap="butt"/>
<line x1="1587" y1="953.9" x2="1587" y2="1601.8" stroke="#000" stroke-width="2.6" stroke-dasharray="7.9 7.8" stroke-linecap="butt"/>
<line x1="1194.3" y1="1078.3" x2="1840.7" y2="1078.3" stroke="#000" stroke-width="2.6" stroke-dasharray="7.9 7.8" stroke-linecap="butt"/>
<line x1="1716.9" y1="953.9" x2="1716.9" y2="1601.8" stroke="#000" stroke-width="2.6" stroke-dasharray="7.9 7.8" stroke-linecap="butt"/>
<line x1="1180" y1="948.9" x2="1847.8" y2="948.9" stroke="#000" stroke-width="2.2" stroke-linecap="butt"/>
<line x1="1846.7" y1="948.9" x2="1846.7" y2="1612.5" stroke="#000" stroke-width="2.2" stroke-linecap="butt"/>
<line x1="1194.3" y1="948.65" x2="1194.3" y2="1612.5" stroke="#000" stroke-width="2.5" stroke-linecap="butt"/>
<line x1="1180" y1="1601.8" x2="1846.7" y2="1601.8" stroke="#000" stroke-width="2.5" stroke-linecap="butt"/>
<line x1="1180" y1="1601.8" x2="1194.3" y2="1601.8" stroke="#000" stroke-width="2.5" stroke-linecap="butt"/>
<line x1="1194.3" y1="1601.8" x2="1194.3" y2="1612.5" stroke="#000" stroke-width="2.5" stroke-linecap="butt"/>
<line x1="1180" y1="1471.3" x2="1194.3" y2="1471.3" stroke="#000" stroke-width="2.5" stroke-linecap="butt"/>
<line x1="1324.4" y1="1601.8" x2="1324.4" y2="1612.5" stroke="#000" stroke-width="2.5" stroke-linecap="butt"/>
<line x1="1180" y1="1340.8" x2="1194.3" y2="1340.8" stroke="#000" stroke-width="2.5" stroke-linecap="butt"/>
<line x1="1454.2" y1="1601.8" x2="1454.2" y2="1612.5" stroke="#000" stroke-width="2.5" stroke-linecap="butt"/>
<line x1="1180" y1="1208.4" x2="1194.3" y2="1208.4" stroke="#000" stroke-width="2.5" stroke-linecap="butt"/>
<line x1="1587" y1="1601.8" x2="1587" y2="1612.5" stroke="#000" stroke-width="2.5" stroke-linecap="butt"/>
<line x1="1180" y1="1078.3" x2="1194.3" y2="1078.3" stroke="#000" stroke-width="2.5" stroke-linecap="butt"/>
<line x1="1716.9" y1="1601.8" x2="1716.9" y2="1612.5" stroke="#000" stroke-width="2.5" stroke-linecap="butt"/>
<line x1="1180" y1="948.9" x2="1194.3" y2="948.9" stroke="#000" stroke-width="2.5" stroke-linecap="butt"/>
<line x1="1846.7" y1="1601.8" x2="1846.7" y2="1612.5" stroke="#000" stroke-width="2.5" stroke-linecap="butt"/>
<line x1="1185" y1="1536.55" x2="1194.3" y2="1536.55" stroke="#000" stroke-width="2.5" stroke-linecap="butt"/>
<line x1="1259.35" y1="1601.8" x2="1259.35" y2="1608" stroke="#000" stroke-width="2.5" stroke-linecap="butt"/>
<line x1="1185" y1="1406.05" x2="1194.3" y2="1406.05" stroke="#000" stroke-width="2.5" stroke-linecap="butt"/>
<line x1="1389.3" y1="1601.8" x2="1389.3" y2="1608" stroke="#000" stroke-width="2.5" stroke-linecap="butt"/>
<line x1="1185" y1="1274.6" x2="1194.3" y2="1274.6" stroke="#000" stroke-width="2.5" stroke-linecap="butt"/>
<line x1="1520.6" y1="1601.8" x2="1520.6" y2="1608" stroke="#000" stroke-width="2.5" stroke-linecap="butt"/>
<line x1="1185" y1="1143.35" x2="1194.3" y2="1143.35" stroke="#000" stroke-width="2.5" stroke-linecap="butt"/>
<line x1="1651.95" y1="1601.8" x2="1651.95" y2="1608" stroke="#000" stroke-width="2.5" stroke-linecap="butt"/>
<line x1="1185" y1="1013.6" x2="1194.3" y2="1013.6" stroke="#000" stroke-width="2.5" stroke-linecap="butt"/>
<line x1="1781.8" y1="1601.8" x2="1781.8" y2="1608" stroke="#000" stroke-width="2.5" stroke-linecap="butt"/>
<text x="1170.5" y="1610.4" font-size="28.2" fill="#22222e" stroke="#22222e" stroke-width="0.45" text-anchor="end">0</text>
<text x="1170.5" y="1479.9" font-size="28.2" fill="#22222e" stroke="#22222e" stroke-width="0.45" text-anchor="end">600</text>
<text x="1170.5" y="1349.4" font-size="28.2" fill="#22222e" stroke="#22222e" stroke-width="0.45" text-anchor="end">1200</text>
<text x="1170.5" y="1217" font-size="28.2" fill="#22222e" stroke="#22222e" stroke-width="0.45" text-anchor="end">1800</text>
<text x="1170.5" y="1086.9" font-size="28.2" fill="#22222e" stroke="#22222e" stroke-width="0.45" text-anchor="end">2400</text>
<text x="1170.5" y="957.5" font-size="28.2" fill="#22222e" stroke="#22222e" stroke-width="0.45" text-anchor="end">3000</text>
<text x="1192.3" y="1647.2" font-size="27" fill="#22222e" stroke="#22222e" stroke-width="0.45" text-anchor="middle">0</text>
<text x="1322.4" y="1647.2" font-size="27" fill="#22222e" stroke="#22222e" stroke-width="0.45" text-anchor="middle">1200</text>
<text x="1452.2" y="1647.2" font-size="27" fill="#22222e" stroke="#22222e" stroke-width="0.45" text-anchor="middle">2400</text>
<text x="1585" y="1647.2" font-size="27" fill="#22222e" stroke="#22222e" stroke-width="0.45" text-anchor="middle">3600</text>
<text x="1714.9" y="1647.2" font-size="27" fill="#22222e" stroke="#22222e" stroke-width="0.45" text-anchor="middle">4800</text>
<text x="1844.7" y="1647.2" font-size="27" fill="#22222e" stroke="#22222e" stroke-width="0.45" text-anchor="middle">6000</text>
<text x="1049.6" y="1285" font-size="26.5" fill="#000" textLength="92.9" lengthAdjust="spacingAndGlyphs">Cl (mg/L)</text>
<text x="1463.1" y="1677" font-size="26.5" fill="#000" textLength="117.9" lengthAdjust="spacingAndGlyphs">TDS (mg/L)</text>
<line x1="1189.3" y1="2304.5" x2="1849.8" y2="2304.5" stroke="#000" stroke-width="2.6" stroke-dasharray="7.6 7.6" stroke-linecap="butt"/>
<line x1="1321.3" y1="1777.1" x2="1321.3" y2="2436.3" stroke="#000" stroke-width="2.6" stroke-dasharray="7.6 7.6" stroke-linecap="butt"/>
<line x1="1189.3" y1="2172.5" x2="1849.8" y2="2172.5" stroke="#000" stroke-width="2.6" stroke-dasharray="7.6 7.6" stroke-linecap="butt"/>
<line x1="1453.7" y1="1777.1" x2="1453.7" y2="2436.3" stroke="#000" stroke-width="2.6" stroke-dasharray="7.6 7.6" stroke-linecap="butt"/>
<line x1="1189.3" y1="2038.5" x2="1849.8" y2="2038.5" stroke="#000" stroke-width="2.6" stroke-dasharray="7.6 7.6" stroke-linecap="butt"/>
<line x1="1586" y1="1777.1" x2="1586" y2="2436.3" stroke="#000" stroke-width="2.6" stroke-dasharray="7.6 7.6" stroke-linecap="butt"/>
<line x1="1189.3" y1="1906.6" x2="1849.8" y2="1906.6" stroke="#000" stroke-width="2.6" stroke-dasharray="7.6 7.6" stroke-linecap="butt"/>
<line x1="1717.9" y1="1777.1" x2="1717.9" y2="2436.3" stroke="#000" stroke-width="2.6" stroke-dasharray="7.6 7.6" stroke-linecap="butt"/>
<line x1="1175.8" y1="1775.1" x2="1850.9" y2="1775.1" stroke="#000" stroke-width="2.2" stroke-linecap="butt"/>
<line x1="1849.8" y1="1775.1" x2="1849.8" y2="2447.5" stroke="#000" stroke-width="2.2" stroke-linecap="butt"/>
<line x1="1189.3" y1="1774.85" x2="1189.3" y2="2447.5" stroke="#000" stroke-width="2.5" stroke-linecap="butt"/>
<line x1="1175.8" y1="2436.3" x2="1849.8" y2="2436.3" stroke="#000" stroke-width="2.5" stroke-linecap="butt"/>
<line x1="1175.8" y1="2436.3" x2="1189.3" y2="2436.3" stroke="#000" stroke-width="2.5" stroke-linecap="butt"/>
<line x1="1189.3" y1="2436.3" x2="1189.3" y2="2447.5" stroke="#000" stroke-width="2.5" stroke-linecap="butt"/>
<line x1="1175.8" y1="2304.5" x2="1189.3" y2="2304.5" stroke="#000" stroke-width="2.5" stroke-linecap="butt"/>
<line x1="1321.3" y1="2436.3" x2="1321.3" y2="2447.5" stroke="#000" stroke-width="2.5" stroke-linecap="butt"/>
<line x1="1175.8" y1="2172.5" x2="1189.3" y2="2172.5" stroke="#000" stroke-width="2.5" stroke-linecap="butt"/>
<line x1="1453.7" y1="2436.3" x2="1453.7" y2="2447.5" stroke="#000" stroke-width="2.5" stroke-linecap="butt"/>
<line x1="1175.8" y1="2038.5" x2="1189.3" y2="2038.5" stroke="#000" stroke-width="2.5" stroke-linecap="butt"/>
<line x1="1586" y1="2436.3" x2="1586" y2="2447.5" stroke="#000" stroke-width="2.5" stroke-linecap="butt"/>
<line x1="1175.8" y1="1906.6" x2="1189.3" y2="1906.6" stroke="#000" stroke-width="2.5" stroke-linecap="butt"/>
<line x1="1717.9" y1="2436.3" x2="1717.9" y2="2447.5" stroke="#000" stroke-width="2.5" stroke-linecap="butt"/>
<line x1="1175.8" y1="1775.1" x2="1189.3" y2="1775.1" stroke="#000" stroke-width="2.5" stroke-linecap="butt"/>
<line x1="1849.8" y1="2436.3" x2="1849.8" y2="2447.5" stroke="#000" stroke-width="2.5" stroke-linecap="butt"/>
<line x1="1180.5" y1="2370.4" x2="1189.3" y2="2370.4" stroke="#000" stroke-width="2.5" stroke-linecap="butt"/>
<line x1="1255.3" y1="2436.3" x2="1255.3" y2="2443.5" stroke="#000" stroke-width="2.5" stroke-linecap="butt"/>
<line x1="1180.5" y1="2238.5" x2="1189.3" y2="2238.5" stroke="#000" stroke-width="2.5" stroke-linecap="butt"/>
<line x1="1387.5" y1="2436.3" x2="1387.5" y2="2443.5" stroke="#000" stroke-width="2.5" stroke-linecap="butt"/>
<line x1="1180.5" y1="2105.5" x2="1189.3" y2="2105.5" stroke="#000" stroke-width="2.5" stroke-linecap="butt"/>
<line x1="1519.85" y1="2436.3" x2="1519.85" y2="2443.5" stroke="#000" stroke-width="2.5" stroke-linecap="butt"/>
<line x1="1180.5" y1="1972.55" x2="1189.3" y2="1972.55" stroke="#000" stroke-width="2.5" stroke-linecap="butt"/>
<line x1="1651.95" y1="2436.3" x2="1651.95" y2="2443.5" stroke="#000" stroke-width="2.5" stroke-linecap="butt"/>
<line x1="1180.5" y1="1840.85" x2="1189.3" y2="1840.85" stroke="#000" stroke-width="2.5" stroke-linecap="butt"/>
<line x1="1783.85" y1="2436.3" x2="1783.85" y2="2443.5" stroke="#000" stroke-width="2.5" stroke-linecap="butt"/>
<text x="1166.8" y="2444.54" font-size="27.2" fill="#22222e" stroke="#22222e" stroke-width="0.45" text-anchor="end">0</text>
<text x="1166.8" y="2312.74" font-size="27.2" fill="#22222e" stroke="#22222e" stroke-width="0.45" text-anchor="end">140</text>
<text x="1166.8" y="2180.74" font-size="27.2" fill="#22222e" stroke="#22222e" stroke-width="0.45" text-anchor="end">280</text>
<text x="1166.8" y="2046.74" font-size="27.2" fill="#22222e" stroke="#22222e" stroke-width="0.45" text-anchor="end">420</text>
<text x="1166.8" y="1914.84" font-size="27.2" fill="#22222e" stroke="#22222e" stroke-width="0.45" text-anchor="end">560</text>
<text x="1166.8" y="1783.34" font-size="27.2" fill="#22222e" stroke="#22222e" stroke-width="0.45" text-anchor="end">700</text>
<text x="1187.3" y="2479.4" font-size="26.5" fill="#22222e" stroke="#22222e" stroke-width="0.45" text-anchor="middle">0</text>
<text x="1319.3" y="2479.4" font-size="26.5" fill="#22222e" stroke="#22222e" stroke-width="0.45" text-anchor="middle">600</text>
<text x="1451.7" y="2479.4" font-size="26.5" fill="#22222e" stroke="#22222e" stroke-width="0.45" text-anchor="middle">1200</text>
<text x="1584" y="2479.4" font-size="26.5" fill="#22222e" stroke="#22222e" stroke-width="0.45" text-anchor="middle">1800</text>
<text x="1715.9" y="2479.4" font-size="26.5" fill="#22222e" stroke="#22222e" stroke-width="0.45" text-anchor="middle">2400</text>
<text x="1847.8" y="2479.4" font-size="26.5" fill="#22222e" stroke="#22222e" stroke-width="0.45" text-anchor="middle">3000</text>
<text x="1033.8" y="2112.5" font-size="26.3" fill="#000" textLength="117.4" lengthAdjust="spacingAndGlyphs">SO4 (mg/L)</text>
<text x="1479.4" y="2517" font-size="26.3" fill="#000" textLength="93.6" lengthAdjust="spacingAndGlyphs">Cl (mg/L)</text>
<circle cx="302.5" cy="1401.3" r="14.8" fill="#00ff00" stroke="#000" stroke-width="1.6"/>
<circle cx="203.8" cy="1480" r="14.8" fill="#5bcbdc" stroke="#000" stroke-width="2"/>
<circle cx="195" cy="1501.3" r="14" fill="#5bcbdc" stroke="#000" stroke-width="2"/>
<circle cx="194.3" cy="1522.5" r="14.8" fill="#5bcbdc" stroke="#000" stroke-width="2"/>
<circle cx="207" cy="1465.7" r="13.7" fill="#000088"/>
<circle cx="238.7" cy="1466.1" r="12.2" fill="#fb8232"/>
<circle cx="750" cy="1096.3" r="14.5" fill="#ff00ff" stroke="#000" stroke-width="1.6"/>
<circle cx="728" cy="1093.8" r="14.5" fill="#ffff00" stroke="#000" stroke-width="1.6"/>
<rect x="731.8" y="1025" width="23.2" height="22.5" fill="#f4352a" stroke="#000" stroke-width="1.8"/>
<circle cx="232" cy="2259.3" r="12" fill="#fb8232"/>
<circle cx="300" cy="2264.5" r="14.8" fill="#00ff00" stroke="#000" stroke-width="1.6"/>
<circle cx="201.3" cy="2346.8" r="11.8" fill="#5bcbdc"/>
<circle cx="195" cy="2379.5" r="11.8" fill="#5bcbdc"/>
<circle cx="190.8" cy="2404.3" r="11.8" fill="#5bcbdc"/>
<circle cx="203.8" cy="2366.3" r="12" fill="#1a3b99"/>
<circle cx="732" cy="1888" r="14.8" fill="#ffff00" stroke="#000" stroke-width="1.6"/>
<circle cx="753.3" cy="1877.5" r="14.8" fill="#ff00ff" stroke="#000" stroke-width="1.6"/>
<rect x="734.7" y="2124.7" width="23.2" height="22.5" fill="#f4352a" stroke="#000" stroke-width="1.8"/>
<circle cx="1214.3" cy="773.8" r="11.5" fill="#5bcbdc"/>
<circle cx="1216.3" cy="782.5" r="11.5" fill="#5bcbdc"/>
<circle cx="1230.5" cy="775.5" r="11.8" fill="#1a3b99"/>
<circle cx="1255" cy="772.5" r="12" fill="#fb8232"/>
<circle cx="1322" cy="705.5" r="14.8" fill="#00ff00" stroke="#000" stroke-width="1.6"/>
<circle cx="1764.3" cy="389.5" r="14.8" fill="#ff00ff" stroke="#000" stroke-width="1.6"/>
<circle cx="1742.5" cy="376.3" r="14.8" fill="#ffff00" stroke="#000" stroke-width="1.6"/>
<rect x="1744.5" y="448" width="19.8" height="18.8" fill="#f4352a" stroke="#000" stroke-width="1.8"/>
<circle cx="1325.5" cy="1503" r="14.8" fill="#00ff00" stroke="#000" stroke-width="1.6"/>
<circle cx="1259.5" cy="1574.5" r="12" fill="#fb8232"/>
<circle cx="1217.5" cy="1598.8" r="12" fill="#5bcbdc"/>
<circle cx="1232" cy="1605.5" r="11.6" fill="#5bcbdc"/>
<circle cx="1233" cy="1588" r="12" fill="#1a3b99"/>
<circle cx="1775.2" cy="1081.4" r="14.5" fill="#ff00ff" stroke="#000" stroke-width="1.6"/>
<circle cx="1755" cy="1094.3" r="14.7" fill="#ffff00" stroke="#000" stroke-width="1.6"/>
<rect x="1757.4" y="1130" width="26.2" height="25" fill="#f4352a" stroke="#000" stroke-width="1.4"/>
<circle cx="1284.5" cy="2310" r="14.8" fill="#00ff00" stroke="#000" stroke-width="1.6"/>
<circle cx="1210.8" cy="2355" r="12" fill="#fb8232"/>
<circle cx="1190.5" cy="2405" r="12" fill="#5bcbdc"/>
<circle cx="1191.3" cy="2432.5" r="12" fill="#5bcbdc"/>
<circle cx="1191.3" cy="2419.5" r="12" fill="#1a3b99"/>
<circle cx="1714.7" cy="1851.2" r="14.8" fill="#ff00ff" stroke="#000" stroke-width="1.6"/>
<circle cx="1705.7" cy="1872.8" r="14.8" fill="#ffff00" stroke="#000" stroke-width="1.6"/>
<rect x="1643.8" y="1875.8" width="24.1" height="26.2" fill="#f4352a" stroke="#000" stroke-width="1.8"/>
<text x="1878" y="84.8" font-size="63" fill="#000" transform="translate(1881 0) scale(1.06 1) translate(-1881 0)">d</text>
<text x="920.5" y="933" font-size="63.5" fill="#000" transform="translate(924.4 0) scale(1.07 1) translate(-925 0)">b</text>
<text x="1870.5" y="933.6" font-size="64.5" fill="#000">e</text>
<text x="917.6" y="1753.2" font-size="56.5" fill="#000" stroke="#000" stroke-width="0.7" transform="translate(920 0) scale(0.9 1) translate(-919.4 0)">c</text>
<text x="1886" y="1746.5" font-size="50" fill="#000" transform="translate(1890.3 0) scale(1.22 1) translate(-1887 0)">f</text>
<line x1="1935.5" y1="102.7" x2="1939.5" y2="102.7" stroke="#000" stroke-width="1.6" stroke-linecap="butt"/>
<path d="M1950.6,294 L1953.2,301.5" stroke="#f7923a" stroke-width="1.4" fill="none"/>
<text x="58.3" y="2601.5" font-size="38.7" fill="#000" textLength="138.1" lengthAdjust="spacingAndGlyphs" font-weight="bold">LEGEND</text>
<circle cx="109" cy="2647" r="11.9" fill="#00c4d8"/>
<circle cx="111.2" cy="2693.3" r="12.1" fill="#063193"/>
<circle cx="111" cy="2742.7" r="12" fill="#ff7010"/>
<text x="136" y="2660.2" font-size="39.3" fill="#000" textLength="326.5" lengthAdjust="spacingAndGlyphs">Fresh water spring</text>
<text x="136.8" y="2708.9" font-size="39.3" fill="#000" textLength="492.3" lengthAdjust="spacingAndGlyphs">Mamurras water supply well</text>
<text x="135.9" y="2754.9" font-size="39.3" fill="#000" textLength="291.5" lengthAdjust="spacingAndGlyphs">Makaresh spring</text>
<rect x="742.7" y="2583.9" width="25" height="20.6" fill="#f01e1e" stroke="#000" stroke-width="2"/>
<text x="783.9" y="2608.9" font-size="39.3" fill="#000" textLength="516.4" lengthAdjust="spacingAndGlyphs">Zheji borehole, thermal water</text>
<circle cx="753.7" cy="2647" r="15.3" fill="#00ff00" stroke="#000" stroke-width="2"/>
<circle cx="753.7" cy="2697.9" r="15.3" fill="#ff00ff" stroke="#000" stroke-width="2"/>
<circle cx="753.7" cy="2747" r="15.3" fill="#ffff00" stroke="#000" stroke-width="2"/>
<text x="785.2" y="2660.6" font-size="37" fill="#000" textLength="291.6" lengthAdjust="spacingAndGlyphs">White Water Sp-1</text>
<text x="785.2" y="2709.7" font-size="37" fill="#000" textLength="292.5" lengthAdjust="spacingAndGlyphs">White Water Sp-5</text>
<text x="785.2" y="2758.8" font-size="37" fill="#000" textLength="293" lengthAdjust="spacingAndGlyphs">White Water Sp-6</text>
</svg></body></html>
